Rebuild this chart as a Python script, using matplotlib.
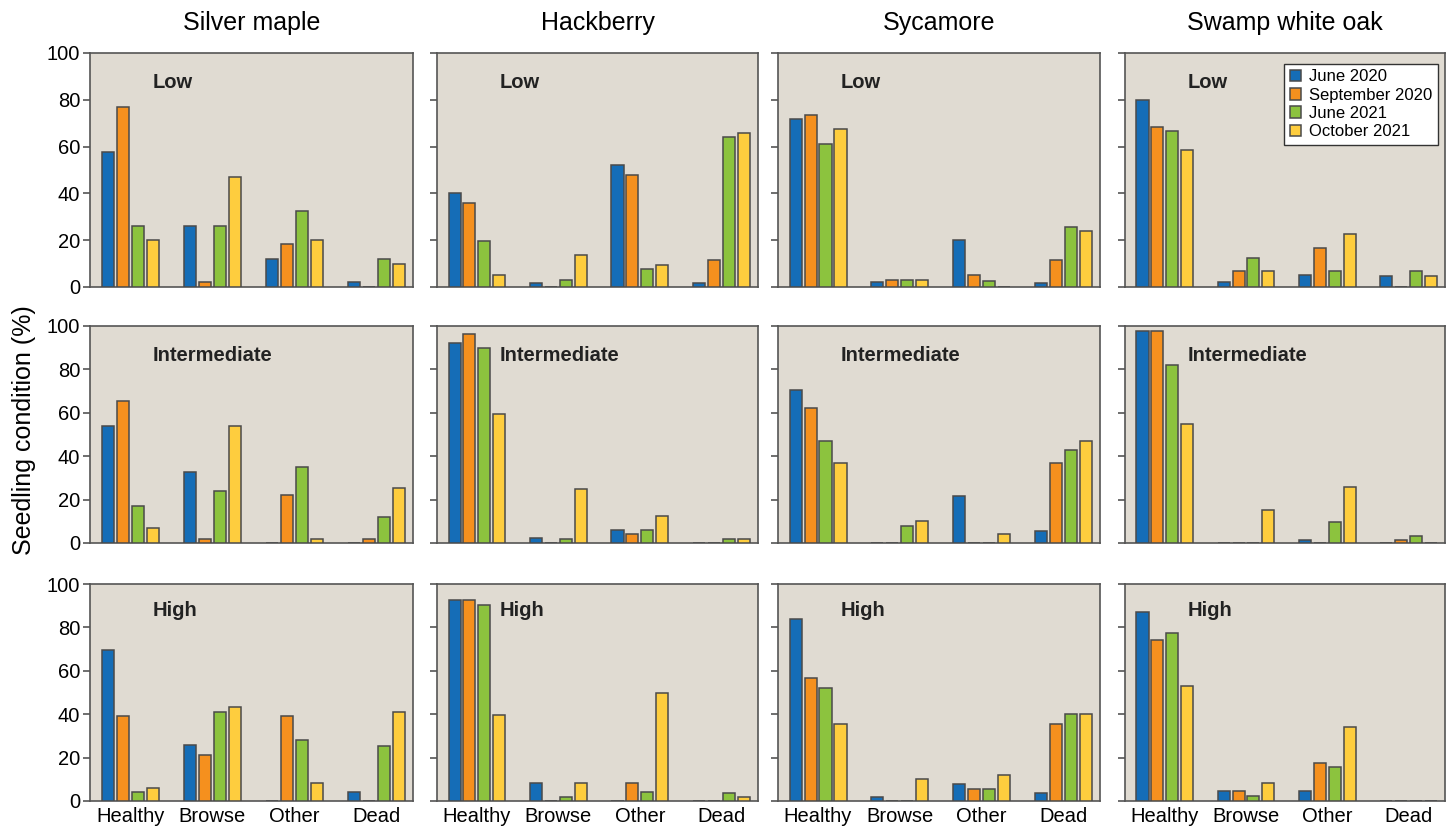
import matplotlib
matplotlib.use("Agg")
import matplotlib.pyplot as plt
import numpy as np

plt.rcParams['font.family'] = ['Liberation Sans', 'DejaVu Sans']

species = ["Silver maple", "Hackberry", "Sycamore", "Swamp white oak"]
levels = ["Low", "Intermediate", "High"]
categories = ["Healthy", "Browse", "Other", "Dead"]
periods = ["June 2020", "September 2020", "June 2021", "October 2021"]
colors = ["#156db7", "#f5901e", "#8cc33e", "#fecd3e"]

# values[level][species] -> per period, per category (Healthy, Browse, Other, Dead)
# Low
low_silver_maple = [[57.5, 26, 12, 2], [77, 2, 18.5, 0], [26, 26, 32.5, 12], [20, 47, 20, 10]]
low_hackberry = [[40, 1.5, 52, 1.5], [36, 0, 48, 11.5], [19.5, 3, 7.5, 64], [5, 13.5, 9.5, 66]]
low_sycamore = [[72, 2, 20, 1.5], [73.5, 3, 5, 11.5], [61, 3, 2.5, 25.5], [67.5, 3, 0, 24]]
low_swamp_white_oak = [[80, 2, 5, 4.5], [68.5, 7, 16.5, 0], [66.5, 12.5, 7, 7], [58.5, 7, 22.5, 4.5]]
# Intermediate
int_silver_maple = [[54, 32.5, 0, 0], [65.5, 2, 22, 2], [17, 24, 35, 12], [7, 54, 2, 25.5]]
int_hackberry = [[92, 2.5, 6, 0], [96.5, 0, 4, 0], [90, 2, 6, 2], [59.5, 25, 12.5, 2]]
int_sycamore = [[70.5, 0, 21.5, 5.5], [62, 0, 0, 37], [47, 8, 0, 43], [37, 10, 4, 47]]
int_swamp_white_oak = [[97.5, 0, 1.5, 0], [97.5, 0, 0, 1.5], [82, 0, 9.5, 3], [55, 15, 26, 0]]
# High
high_silver_maple = [[69.5, 26, 0, 4], [39, 21, 39, 0], [4, 41, 28, 25.5], [6, 43.5, 8.5, 41]]
high_hackberry = [[92.5, 8.5, 0, 0], [92.5, 0, 8.5, 0], [90.5, 2, 4, 3.5], [39.5, 8.5, 50, 2]]
high_sycamore = [[84, 2, 8, 3.5], [56.5, 0, 5.5, 35.5], [52, 0, 5.5, 40], [35.5, 10, 12, 40]]
high_swamp_white_oak = [[87, 4.5, 4.5, 0], [74, 4.5, 17.5, 0], [77.5, 2.5, 15.5, 0], [53, 8.5, 34, 0]]

data = [
    [low_silver_maple, low_hackberry, low_sycamore, low_swamp_white_oak],
    [int_silver_maple, int_hackberry, int_sycamore, int_swamp_white_oak],
    [high_silver_maple, high_hackberry, high_sycamore, high_swamp_white_oak],
]
yticks = [0, 20, 40, 60, 80, 100]

W, H = 1455, 831
fig = plt.figure(figsize=(W / 100, H / 100), dpi=100)
fig.patch.set_facecolor("white")

col_px = [(90, 413), (437, 758), (778, 1100), (1125, 1445)]
row_px = [(53, 287), (326, 543), (584, 801)]
label_y = [0.875, 0.866, 0.876]

edge = "#4a4a4a"
x = np.arange(len(categories))
slot = 0.183
bw = 0.148

for r in range(3):
    for c in range(4):
        l, rr = col_px[c]
        t, b = row_px[r]
        ax = fig.add_axes([l / W, 1 - b / H, (rr - l) / W, (b - t) / H])
        ax.set_facecolor("#e0dbd2")
        vals = data[r][c]
        for k in range(4):
            ax.bar(x + (k - 1.5) * slot, vals[k], width=bw, color=colors[k],
                   edgecolor=edge, linewidth=1.1, label=periods[k], zorder=3)
        ax.set_xlim(-0.49, 3.45)
        ax.set_ylim(0, 100)
        ax.set_yticks(yticks)
        for s in ax.spines.values():
            s.set_color("#555555")
            s.set_linewidth(1.2)
        ax.tick_params(axis="y", direction="out", length=5, width=1.2, color="#555555",
                       labelsize=14.5, pad=2)
        ax.tick_params(axis="x", length=0, labelsize=14.5, pad=4)
        if c != 0:
            ax.set_yticklabels([])
        ax.set_xticks(x)
        if r == 2:
            ax.set_xticklabels(categories)
        else:
            ax.set_xticklabels([])
        ax.text(0.195, label_y[r], levels[r], transform=ax.transAxes, fontsize=14.5,
                fontweight="bold", color="#222222", ha="left", va="center")
        if r == 0 and c == 3:
            leg = ax.legend(loc="upper right", bbox_to_anchor=(0.978, 0.955), fontsize=12,
                            frameon=True, fancybox=False, edgecolor="#333333",
                            handlelength=0.7, handleheight=0.7, handletextpad=0.45,
                            labelspacing=0.2, borderpad=0.35, borderaxespad=0)
            leg.get_frame().set_linewidth(1.0)
            leg.get_frame().set_facecolor("white")
            leg.get_frame().set_alpha(1.0)
        if r == 0:
            fig.text((l + rr) / 2 / W, 1 - 23 / H, species[c], fontsize=18,
                     ha="center", va="center")

fig.text(24 / W, 1 - 430 / H, "Seedling condition (%)", rotation=90, fontsize=18,
         ha="center", va="center")

fig.savefig("out.png", dpi=100)
